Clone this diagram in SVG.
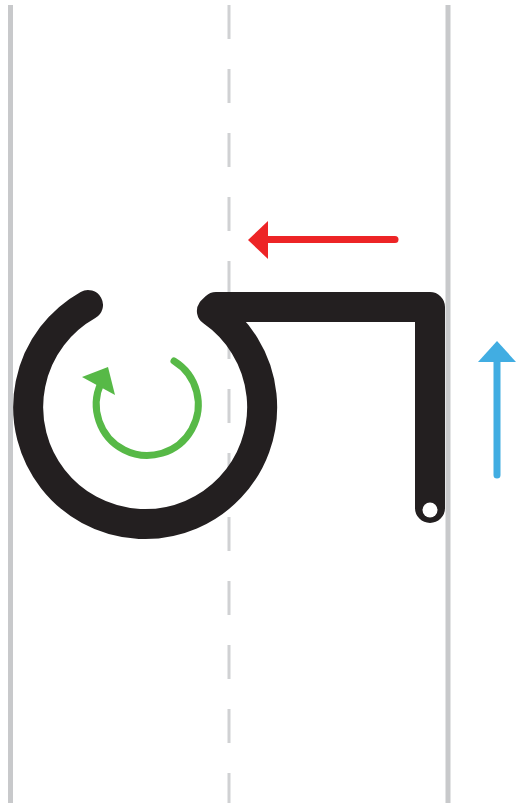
<svg xmlns="http://www.w3.org/2000/svg" width="531" height="803" viewBox="0 0 531 803">
<style>
.guide{stroke:#c8c9cb;stroke-width:5;fill:none}
.dash{stroke:#d0d1d3;stroke-width:3;fill:none;stroke-dasharray:34 30}
.letter{stroke:#231f20;stroke-width:30;fill:none;stroke-linecap:round;stroke-linejoin:round}
</style>
<rect width="531" height="803" fill="#ffffff"/>
<g id="guides">
<line class="guide" x1="10.5" y1="5" x2="10.5" y2="803"/>
<line class="guide" x1="448" y1="5" x2="448" y2="803"/>
<line class="dash" x1="229" y1="5" x2="229" y2="803"/>
</g>
<g id="letter">
<path class="letter" d="M 88,305 A 117 117 0 1 0 211.9,311 L 216,307 L 430,307 L 430,508"/>
<circle cx="430" cy="510" r="7.5" fill="#ffffff"/>
</g>
<g id="connectors">
<g id="green-arrow">
<path d="M 174,361 A 51 51 0 1 1 101,383" fill="none" stroke="#57b947" stroke-width="7" stroke-linecap="round"/>
<polygon points="82,377 108,367 115,395" fill="#57b947"/>
</g>
<g id="red-arrow">
<line x1="395" y1="239.5" x2="266" y2="239.5" stroke="#ed2426" stroke-width="7" stroke-linecap="round"/>
<polygon points="248,240 268,221 268,259" fill="#ed2426"/>
</g>
<g id="blue-arrow">
<line x1="497" y1="475" x2="497" y2="360" stroke="#41ade2" stroke-width="7" stroke-linecap="round"/>
<polygon points="497,341 478,362 516,362" fill="#41ade2"/>
</g>
</g>
</svg>
